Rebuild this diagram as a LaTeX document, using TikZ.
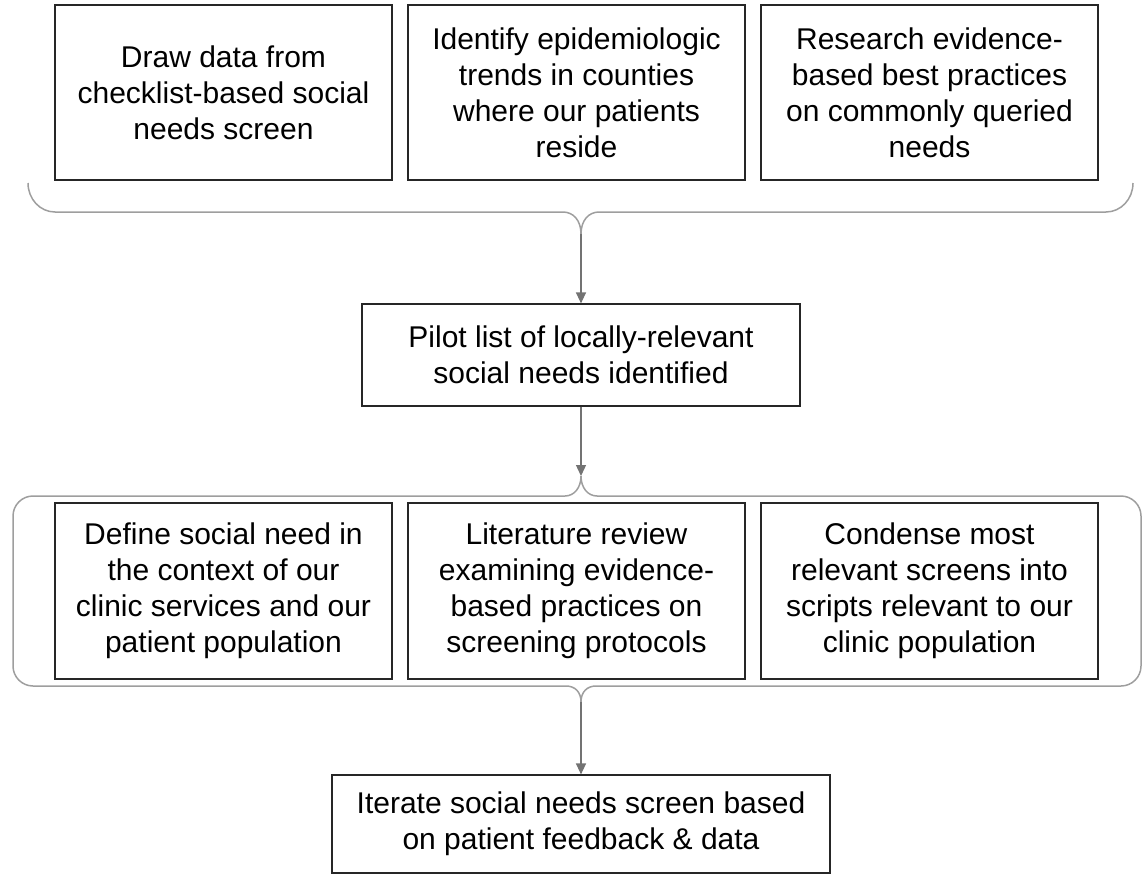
\documentclass[tikz,border=0pt]{standalone}
\usepackage{fontspec}
\setmainfont{Liberation Sans}
\usetikzlibrary{arrows.meta}
\begin{document}
\begin{tikzpicture}[x=1pt,y=1pt,
  box/.style={draw=black!85, line width=1.2pt, align=center, inner sep=0pt, font=\fontsize{30}{36}\selectfont, text=black},
  brace/.style={draw=black!38, line width=1.5pt},
  conn/.style={draw=black!55, line width=1.3pt, -{Triangle[width=10pt,length=11pt]}},
]
\useasboundingbox (0,0) rectangle (1143,-875);

% top row
\node[box, minimum width=337, minimum height=175] (a1) at (223.5,-92.5) {Draw data from\\checklist-based social\\needs screen};
\node[box, minimum width=337, minimum height=175] (a2) at (576.5,-92.5) {Identify epidemiologic\\trends in counties\\where our patients\\reside};
\node[box, minimum width=337, minimum height=175] (a3) at (929.5,-92.5) {Research evidence-\\based best practices\\on commonly queried\\needs};

% top brace
\draw[brace] (28,-183) .. controls (28,-199) and (40,-212) .. (55,-212) -- (563,-212)
  .. controls (573,-212) and (581,-220) .. (581,-234)
  .. controls (581,-220) and (589,-212) .. (599,-212) -- (1106,-212)
  .. controls (1121,-212) and (1133,-199) .. (1133,-183);
\coordinate (t1) at (581,-234);

% pilot
\node[box, minimum width=438, minimum height=102] (p) at (581,-355) {Pilot list of locally-relevant\\social needs identified};
\draw[conn] (t1) -- (p.north);

% middle bracket
\draw[brace] (565,-496) -- (33,-496) .. controls (22,-496) and (13,-505) .. (13,-516) -- (13,-666)
  .. controls (13,-677) and (22,-686) .. (33,-686) -- (566,-686)
  .. controls (575,-686) and (581,-692) .. (581,-702)
  .. controls (581,-692) and (587,-686) .. (596,-686) -- (1121,-686)
  .. controls (1132,-686) and (1141,-677) .. (1141,-666) -- (1141,-516)
  .. controls (1141,-505) and (1132,-496) .. (1121,-496) -- (597,-496)
  .. controls (588,-496) and (581,-488) .. (581,-476)
  .. controls (581,-488) and (574,-496) .. (565,-496) -- cycle;
\coordinate (t2) at (581,-476);
\coordinate (t3) at (581,-702);
\draw[conn] (p.south) -- (t2);

% middle row
\node[box, minimum width=337, minimum height=176] (b1) at (223.5,-591) {Define social need in\\the context of our\\clinic services and our\\patient population};
\node[box, minimum width=337, minimum height=176] (b2) at (576.5,-591) {Literature review\\examining evidence-\\based practices on\\screening protocols};
\node[box, minimum width=337, minimum height=176] (b3) at (929.5,-591) {Condense most\\relevant screens into\\scripts relevant to our\\clinic population};

% bottom
\node[box, minimum width=498, minimum height=98] (c) at (581,-824) {Iterate social needs screen based\\on patient feedback \& data};
\draw[conn] (t3) -- (c.north);
\end{tikzpicture}
\end{document}
